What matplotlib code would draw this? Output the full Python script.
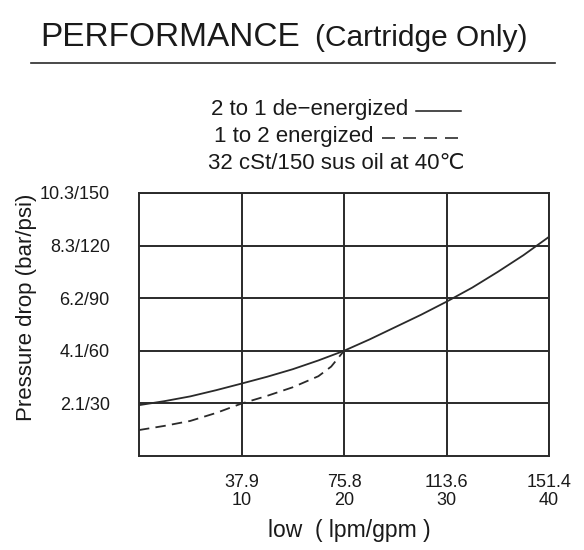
import matplotlib
matplotlib.use("Agg")
import matplotlib.pyplot as plt
from matplotlib.lines import Line2D

plt.rcParams['font.family'] = ['Liberation Sans', 'DejaVu Sans']
plt.rcParams['lines.scale_dashes'] = False

# ---- data ----
flow_gpm_ticks = [10, 20, 30, 40]
flow_lpm_labels = ["37.9", "75.8", "113.6", "151.4"]
psi_ticks = [30, 60, 90, 120, 150]
psi_labels = ["2.1/30", "4.1/60", "6.2/90", "8.3/120", "10.3/150"]

deenergized_gpm = [0, 2.5, 5, 7.5, 10, 12.5, 15, 17.5, 20, 22.5, 25, 27.5, 30, 32.5, 35, 37.5, 40]
deenergized_psi = [29, 31.3, 34, 37.5, 41.3, 45.2, 49.5, 54.5, 60, 66.5, 73.5, 80.5, 88, 96, 105, 114.5, 125]

energized_gpm = [0, 2.5, 5, 7.5, 10, 12.5, 15, 17.5, 18.75, 20]
energized_psi = [14.8, 17.2, 20, 24.5, 29.9, 34.3, 39.2, 45.5, 51, 60]

W, H = 584, 550
TXT = '#1a1a1a'
LINE = '#2a2a2a'
PX = 0.72  # points per pixel at dpi 100

fig = plt.figure(figsize=(W / 100, H / 100), dpi=100)

def fx(x):
    return x / W

def fy(y):
    return 1 - y / H

ax = fig.add_axes([fx(139), fy(456), (549 - 139) / W, (456 - 193) / H])
ax.set_xlim(0, 40)
ax.set_ylim(0, 150)

ax.plot(deenergized_gpm, deenergized_psi, color=LINE, lw=1.3, solid_capstyle='butt')
ax.plot(energized_gpm, energized_psi, color=LINE, lw=1.3, linestyle=(0, (7.5, 4.5)))

ax.set_xticks(flow_gpm_ticks)
ax.set_xticklabels([f"{l}\n{g}" for l, g in zip(flow_lpm_labels, flow_gpm_ticks)],
                   fontsize=13, color=TXT, linespacing=1.1)
ax.set_yticks(psi_ticks)
ax.set_yticklabels(psi_labels, fontsize=13, color=TXT)
ax.tick_params(axis='both', length=0)
ax.tick_params(axis='y', pad=21)
ax.tick_params(axis='x', pad=13)
ax.grid(True, color=LINE, lw=1.4)
for s in ax.spines.values():
    s.set_color(LINE)
    s.set_linewidth(1.4)

# title
fig.text(fx(40), fy(46), "PERFORMANCE", fontsize=24, color=TXT, ha='left', va='baseline')
fig.text(fx(315), fy(46), "(Cartridge Only)", fontsize=21.5, color=TXT, ha='left', va='baseline')
fig.add_artist(Line2D([fx(31), fx(555)], [fy(63), fy(63)], color=LINE, lw=1.2))

# legend block
fig.canvas.draw()
renderer = fig.canvas.get_renderer()

def legend_row(text, y, line_len, style):
    t = fig.text(0, fy(y), text, fontsize=16, color=TXT, ha='left', va='center')
    bb = t.get_window_extent(renderer)
    gap = 8
    total = bb.width + gap + line_len
    x0 = 336 - total / 2
    t.set_x(fx(x0))
    lx0 = x0 + bb.width + gap
    fig.add_artist(Line2D([fx(lx0), fx(lx0 + line_len)], [fy(y + 1), fy(y + 1)],
                          color=TXT, lw=1.1, linestyle=style))

legend_row("2 to 1 de\u2212energized", 110, 45, '-')
legend_row("1 to 2 energized", 137, 76, (0, (13 * PX, 8 * PX)))
fig.text(fx(336), fy(164), "32 cSt/150 sus oil at 40\u2103", fontsize=16, color=TXT,
         ha='center', va='center')

# axis labels
fig.text(fx(27), fy(307), "Pressure drop (bar/psi)", fontsize=16, color=TXT,
         rotation=90, ha='center', va='center')
fig.text(fx(268), fy(537), "low  ( lpm/gpm )", fontsize=16.5, color=TXT,
         ha='left', va='baseline')

fig.savefig("out.png", dpi=100)
